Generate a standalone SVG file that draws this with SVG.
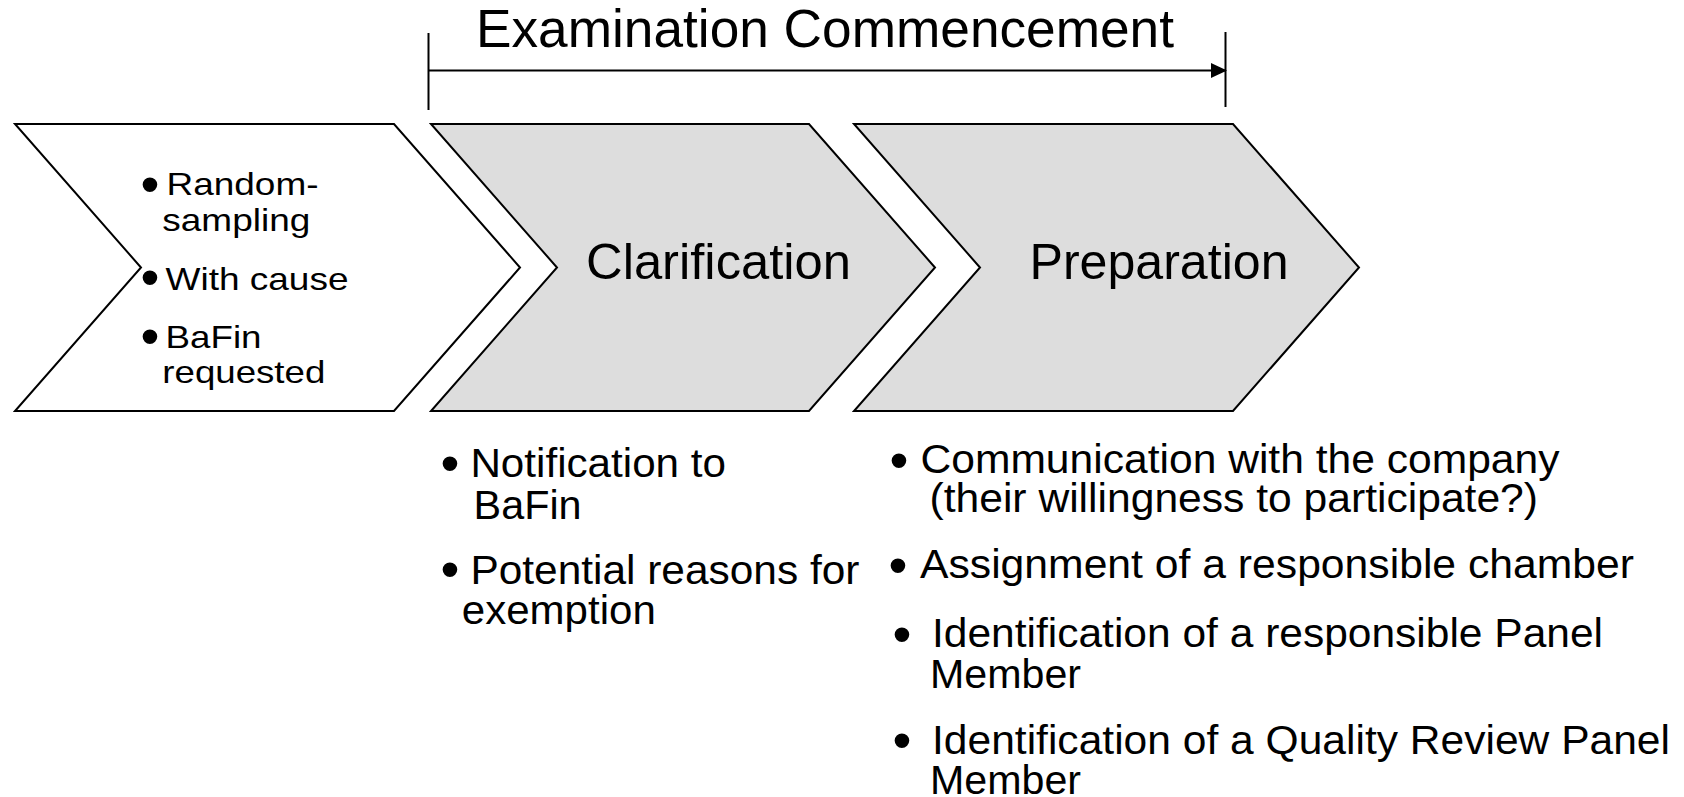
<svg xmlns="http://www.w3.org/2000/svg" width="1684" height="797" viewBox="0 0 1684 797">
  <style>
    .chev { stroke: #000; stroke-width: 2; stroke-linejoin: miter; }
    .white { fill: #ffffff; }
    .grey { fill: #dddddd; }
    text { font-family: "Liberation Sans", Arial, sans-serif; fill: #000; }
    .label { font-size: 50px; }
    .title { font-size: 53px; }
    .small { font-size: 32px; }
    .body { font-size: 40px; }
    .bul { font-size: 54px; text-anchor: middle; }
    .conn { stroke: #000; stroke-width: 2; fill: none; }
  </style>
  <defs>
    <marker id="arrow" viewBox="0 0 16 16" refX="15" refY="8" markerWidth="16" markerHeight="16" markerUnits="userSpaceOnUse" orient="auto">
      <path d="M0,0.5 L16,8 L0,15.5 Z" fill="#000"/>
    </marker>
  </defs>

  <g id="connectors">
    <line class="conn" x1="428.5" y1="33" x2="428.5" y2="110"/>
    <line class="conn" x1="1225.5" y1="32" x2="1225.5" y2="107"/>
    <line class="conn" x1="428.5" y1="70.5" x2="1226" y2="70.5" marker-end="url(#arrow)"/>
  </g>

  <g id="title">
    <text class="title" x="476" y="47" textLength="698" lengthAdjust="spacingAndGlyphs">Examination Commencement</text>
  </g>

  <g id="trigger">
    <polygon class="chev white" points="15,124 394,124 520,267.5 394,411 15,411 141,267.5"/>
    <text class="bul" x="150" y="203">•</text>
    <text class="small" x="166.5" y="195.3" textLength="152" lengthAdjust="spacingAndGlyphs">Random-</text>
    <text class="small" x="162.3" y="230.7" textLength="148" lengthAdjust="spacingAndGlyphs">sampling</text>
    <text class="bul" x="150" y="296">•</text>
    <text class="small" x="165.5" y="289.7" textLength="183" lengthAdjust="spacingAndGlyphs">With cause</text>
    <text class="bul" x="150" y="355">•</text>
    <text class="small" x="165.5" y="348" textLength="96" lengthAdjust="spacingAndGlyphs">BaFin</text>
    <text class="small" x="162.3" y="383" textLength="163" lengthAdjust="spacingAndGlyphs">requested</text>
  </g>

  <g id="clarification">
    <polygon class="chev grey" points="431,124 809,124 935,267.5 809,411 431,411 557,267.5"/>
    <text class="label" x="586" y="279" textLength="265" lengthAdjust="spacingAndGlyphs">Clarification</text>
  </g>

  <g id="preparation">
    <polygon class="chev grey" points="854,124 1233,124 1359,267.5 1233,411 854,411 980,267.5"/>
    <text class="label" x="1029.5" y="279" textLength="259" lengthAdjust="spacingAndGlyphs">Preparation</text>
  </g>

  <g id="clarification-notes">
    <text class="bul" x="450" y="482">•</text>
    <text class="body" x="470.4" y="477" textLength="255.6" lengthAdjust="spacingAndGlyphs">Notification to</text>
    <text class="body" x="473.6" y="519" textLength="108" lengthAdjust="spacingAndGlyphs">BaFin</text>
    <text class="bul" x="450" y="588">•</text>
    <text class="body" x="470.4" y="584" textLength="389" lengthAdjust="spacingAndGlyphs">Potential reasons for</text>
    <text class="body" x="461.8" y="624" textLength="194" lengthAdjust="spacingAndGlyphs">exemption</text>
  </g>

  <g id="preparation-notes">
    <text class="bul" x="899" y="478.5">•</text>
    <text class="body" x="920.5" y="473.3" textLength="639" lengthAdjust="spacingAndGlyphs">Communication with the company</text>
    <text class="body" x="929.5" y="511.7" textLength="608.5" lengthAdjust="spacingAndGlyphs">(their willingness to participate?)</text>
    <text class="bul" x="898" y="584">•</text>
    <text class="body" x="920" y="578" textLength="714" lengthAdjust="spacingAndGlyphs">Assignment of a responsible chamber</text>
    <text class="bul" x="902" y="652.5">•</text>
    <text class="body" x="932" y="646.5" textLength="671" lengthAdjust="spacingAndGlyphs">Identification of a responsible Panel</text>
    <text class="body" x="930" y="687.5" textLength="151" lengthAdjust="spacingAndGlyphs">Member</text>
    <text class="bul" x="902" y="759">•</text>
    <text class="body" x="932" y="754" textLength="738" lengthAdjust="spacingAndGlyphs">Identification of a Quality Review Panel</text>
    <text class="body" x="930" y="794" textLength="151" lengthAdjust="spacingAndGlyphs">Member</text>
  </g>
</svg>
